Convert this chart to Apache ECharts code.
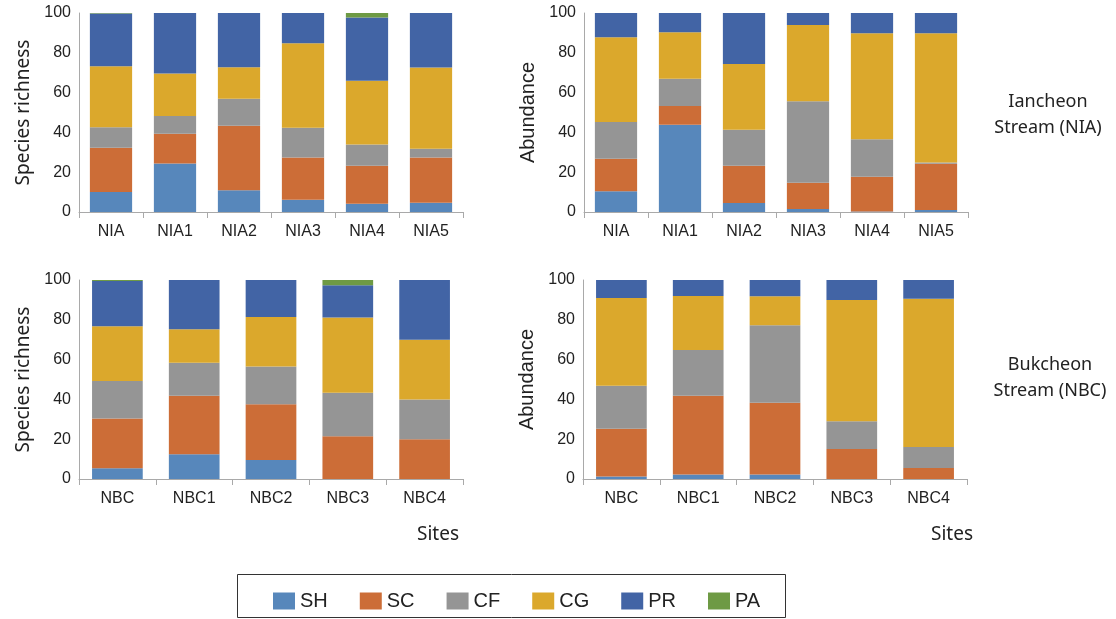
<!DOCTYPE html>
<html>
<head>
<meta charset="utf-8">
<script src="https://cdn.jsdelivr.net/npm/echarts@6/dist/echarts.min.js"></script>
<style>html,body{margin:0;padding:0;background:#fff}#c{width:1116px;height:619px}</style>
</head>
<body>
<div id="c"></div>
<script>
const groups = ['SH', 'SC', 'CF', 'CG', 'PR', 'PA'];
const colors = ['#5787bb', '#cc6d37', '#959595', '#dba82c', '#4264a5', '#6e9a44'];
const sitesNIA = ['NIA', 'NIA1', 'NIA2', 'NIA3', 'NIA4', 'NIA5'];
const sitesNBC = ['NBC', 'NBC1', 'NBC2', 'NBC3', 'NBC4'];
const yTicks = [0, 20, 40, 60, 80, 100];

// Iancheon Stream (NIA) - species richness (%)
const niaRichSH = [10, 24.4, 10.9, 6.2, 4.2, 4.7];
const niaRichSC = [22.3, 14.9, 32.4, 21.2, 19, 22.7];
const niaRichCF = [10.3, 9, 13.6, 14.9, 10.7, 4.4];
const niaRichCG = [30.6, 21.3, 15.8, 42.5, 32, 40.8];
const niaRichPR = [26.5, 30.4, 27.3, 15.2, 31.9, 27.4];
const niaRichPA = [0.3, 0, 0, 0, 2.2, 0];

// Iancheon Stream (NIA) - abundance (%)
const niaAbunSH = [10.4, 43.8, 4.5, 1.5, 0.3, 1];
const niaAbunSC = [16.4, 9.5, 18.7, 13.2, 17.4, 23.2];
const niaAbunCF = [18.4, 13.6, 18.1, 41, 18.8, 0.7];
const niaAbunCG = [42.6, 23.4, 33.1, 38.3, 53.3, 64.9];
const niaAbunPR = [12.2, 9.7, 25.6, 6, 10.2, 10.2];
const niaAbunPA = [0, 0, 0, 0, 0, 0];

// Bukcheon Stream (NBC) - species richness (%)
const nbcRichSH = [5.4, 12.4, 9.6, 0, 0];
const nbcRichSC = [25, 29.4, 28, 21.5, 20];
const nbcRichCF = [18.9, 16.6, 18.9, 21.8, 19.9];
const nbcRichCG = [27.5, 16.8, 24.9, 37.9, 30.1];
const nbcRichPR = [22.7, 24.8, 18.6, 16.1, 30];
const nbcRichPA = [0.5, 0, 0, 2.7, 0];

// Bukcheon Stream (NBC) - abundance (%)
const nbcAbunSH = [1.2, 2.3, 2.2, 0, 0];
const nbcAbunSC = [24, 39.5, 36.1, 15.1, 5.5];
const nbcAbunCF = [21.6, 23, 38.9, 13.9, 10.6];
const nbcAbunCG = [44.1, 27.1, 14.6, 60.9, 74.5];
const nbcAbunPR = [9.1, 8.1, 8.2, 10.1, 9.4];
const nbcAbunPA = [0, 0, 0, 0, 0];

const panels = [
  { cats: sitesNIA, name: 'Species richness', nameFont: 'Noto Sans', data: [niaRichSH, niaRichSC, niaRichCF, niaRichCG, niaRichPR, niaRichPA] },
  { cats: sitesNIA, name: 'Abundance', nameFont: 'Liberation Sans', data: [niaAbunSH, niaAbunSC, niaAbunCF, niaAbunCG, niaAbunPR, niaAbunPA] },
  { cats: sitesNBC, name: 'Species richness', nameFont: 'Noto Sans', data: [nbcRichSH, nbcRichSC, nbcRichCF, nbcRichCG, nbcRichPR, nbcRichPA] },
  { cats: sitesNBC, name: 'Abundance', nameFont: 'Liberation Sans', data: [nbcAbunSH, nbcAbunSC, nbcAbunCF, nbcAbunCG, nbcAbunPR, nbcAbunPA] }
];

const grids = [
  { left: 79, top: 13, width: 384, height: 199 },
  { left: 584, top: 13, width: 384, height: 199 },
  { left: 79, top: 280, width: 384, height: 199 },
  { left: 583, top: 280, width: 384, height: 199 }
];

const axisGray = '#a9a9a9';
const xAxes = [], yAxes = [], series = [];
panels.forEach((p, i) => {
  xAxes.push({
    type: 'category', gridIndex: i, data: p.cats,
    axisLine: { lineStyle: { color: axisGray, width: 1 } },
    axisTick: { show: true, alignWithLabel: false, length: 6, lineStyle: { color: axisGray } },
    axisLabel: { color: '#222', fontFamily: 'Liberation Sans', fontSize: 16, margin: 12 }
  });
  yAxes.push({
    type: 'value', gridIndex: i, min: 0, max: 100, interval: 20,
    name: p.name, nameLocation: 'middle', nameGap: 46,
    nameTextStyle: { color: '#222', fontFamily: p.nameFont, fontSize: p.nameFont === 'Noto Sans' ? 19 : 20 },
    axisLine: { show: true, lineStyle: { color: axisGray, width: 1 } },
    axisTick: { show: false },
    splitLine: { show: false },
    axisLabel: { color: '#222', fontFamily: 'Liberation Sans', fontSize: 16, margin: 8,
      formatter: v => yTicks.includes(v) ? String(v) : '' }
  });
  groups.forEach((g, k) => {
    series.push({
      type: 'bar', name: g, xAxisIndex: i, yAxisIndex: i, stack: 'p' + i,
      data: p.data[k], barCategoryGap: '34%',
      itemStyle: { color: colors[k] },
      emphasis: { disabled: true }
    });
  });
});

const chart = echarts.init(document.getElementById('c'), null, { renderer: 'canvas' });
chart.setOption({
  animation: false,
  backgroundColor: '#fff',
  color: colors,
  grid: grids,
  xAxis: xAxes,
  yAxis: yAxes,
  series: series,
  legend: {
    data: groups, left: 268, top: 586,
    itemWidth: 22, itemHeight: 17, itemGap: 32,
    icon: 'rect',
    textStyle: { color: '#222', fontFamily: 'Liberation Sans', fontSize: 20, padding: [0, 0, 0, 0] }
  },
  graphic: [
    { type: 'rect', shape: { x: 237.5, y: 574.5, width: 548, height: 43 }, style: { fill: 'none', stroke: '#333', lineWidth: 1 } },
    { type: 'text', x: 1048, y: 102, style: { text: 'Iancheon', font: '18px "Noto Sans"', fill: '#222', align: 'center', verticalAlign: 'middle' } },
    { type: 'text', x: 1048, y: 128, style: { text: 'Stream (NIA)', font: '18px "Noto Sans"', fill: '#222', align: 'center', verticalAlign: 'middle' } },
    { type: 'text', x: 1050, y: 365, style: { text: 'Bukcheon', font: '18px "Noto Sans"', fill: '#222', align: 'center', verticalAlign: 'middle' } },
    { type: 'text', x: 1050, y: 391, style: { text: 'Stream (NBC)', font: '18px "Noto Sans"', fill: '#222', align: 'center', verticalAlign: 'middle' } },
    { type: 'text', x: 438, y: 535, style: { text: 'Sites', font: '19px "Noto Sans"', fill: '#222', align: 'center', verticalAlign: 'middle' } },
    { type: 'text', x: 952, y: 535, style: { text: 'Sites', font: '19px "Noto Sans"', fill: '#222', align: 'center', verticalAlign: 'middle' } }
  ]
});
</script>
</body>
</html>
